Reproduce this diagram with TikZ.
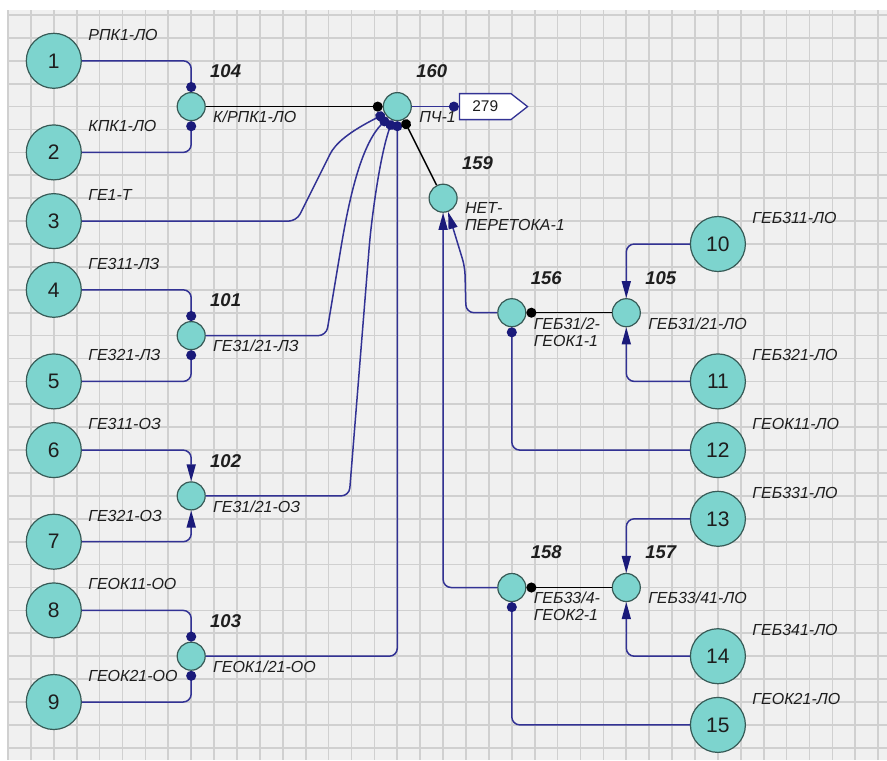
\documentclass[tikz,border=0pt]{standalone}
\usepackage{fontspec}
\setmainfont{Liberation Sans}
\usetikzlibrary{calc,arrows.meta,shapes.symbols}
\definecolor{nodefill}{RGB}{125,212,206}
\definecolor{noderim}{RGB}{55,90,86}
\definecolor{feedc}{RGB}{50,50,148}
\definecolor{dotc}{RGB}{26,26,122}
\definecolor{paper}{RGB}{240,240,240}
\definecolor{gridc}{RGB}{208,208,208}
\definecolor{inkc}{RGB}{30,30,30}
\newlength{\cellsz}
\setlength{\cellsz}{22.9pt}
\tikzset{
  src/.style={
    circle,
    draw=noderim,
    line width=1.2pt,
    fill=nodefill,
    minimum size=55pt,
    inner sep=0pt,
    text=inkc,
    font=\fontsize{21}{23}\selectfont
  },
  jn/.style={circle, draw=noderim, line width=1.2pt, fill=nodefill, minimum size=28pt, inner sep=0pt},
  srctag/.style={font=\itshape\fontsize{16}{17}\selectfont, text=inkc, inner sep=0pt, anchor=west},
  jnum/.style={font=\bfseries\itshape\fontsize{18.5}{20}\selectfont, text=inkc, inner sep=0pt, anchor=west},
  jcap/.style={font=\itshape\fontsize{16}{17}\selectfont, text=inkc, inner sep=0pt, anchor=north west, align=left},
  feed/.style={draw=feedc, line width=1.5pt, rounded corners=8pt},
  tie/.style={draw=black, line width=1.5pt},
  dotend/.style={-{Circle[length=10pt, color=dotc]}},
  tiedot/.style={-{Circle[length=10pt]}},
  arrend/.style={-{Triangle[length=17pt, width=9pt, color=dotc]}},
  flagbox/.style={signal, signal to=east, signal pointer angle=76, draw=feedc, line width=1.3pt, fill=white,
    minimum width=68pt, minimum height=26pt, inner sep=0pt, text=inkc, font=\fontsize{15.5}{17}\selectfont},
  gridln/.style={draw=gridc, line width=1.7pt},
}

\begin{document}
\begin{tikzpicture}[x=\cellsz, y=-\cellsz]
  \useasboundingbox (-0.3493,-0.655) rectangle (38.384,32.533);
  % sheet
  \fill[paper] (0,-0.218) rectangle (38.384,32.533);
  \foreach \k in {0,...,38} \draw[gridln] (\k,-0.218) -- (\k,32.533);
  \foreach \k in {0,...,32} \draw[gridln] (0,\k) -- (38.384,\k);

  % sources
  \foreach \i/\x/\y/\t in {1/2/2/РПК1-ЛО, 2/2/6/КПК1-ЛО, 3/2/9/ГЕ1-Т, 4/2/12/ГЕ311-ЛЗ, 5/2/16/ГЕ321-ЛЗ,
      6/2/19/ГЕ311-ОЗ, 7/2/23/ГЕ321-ОЗ, 8/2/26/ГЕОК11-ОО, 9/2/30/ГЕОК21-ОО,
      10/31/10/ГЕБ311-ЛО, 11/31/16/ГЕБ321-ЛО, 12/31/19/ГЕОК11-ЛО, 13/31/22/ГЕБ331-ЛО,
      14/31/28/ГЕБ341-ЛО, 15/31/31/ГЕОК21-ЛО} {
    \node[src] (s\i) at (\x,\y) {\i};
    \node[srctag] (t\i) at (\x+1.5,\y-1.14) {\t};
  }

  % junctions
  \foreach \n/\x/\y/\c in {104/8/4/{К/РПК1-ЛО}, 160/17/4/{ПЧ-1}, 159/19/8/{НЕТ-\\ПЕРЕТОКА-1},
      101/8/14/{ГЕ31/21-ЛЗ}, 102/8/21/{ГЕ31/21-ОЗ}, 103/8/28/{ГЕОК1/21-ОО},
      156/22/13/{ГЕБ31/2-\\ГЕОК1-1}, 105/27/13/{ГЕБ31/21-ЛО},
      158/22/25/{ГЕБ33/4-\\ГЕОК2-1}, 157/27/25/{ГЕБ33/41-ЛО}} {
    \node[jn] (j\n) at (\x,\y) {};
    \node[jnum] (n\n) at (\x+0.82,\y-1.53) {\n};
    \node[jcap] (c\n) at (\x+0.95,\y+0.2) {\c};
  }

  \node[flagbox, anchor=west] (f279) at (19.69,4) {279};

  % feeds into the junctions
  \foreach \a/\b in {s1/j104.north, s2/j104.south, s4/j101.north, s5/j101.south, s8/j103.north, s9/j103.south}
    \draw[feed, dotend] (\a.east) -| (\b);
  \foreach \a/\b in {s6/j102.north, s7/j102.south}
    \draw[feed, arrend] (\a.east) -| (\b);
  \foreach \a/\b in {s10/j105.north, s11/j105.south, s13/j157.north, s14/j157.south}
    \draw[feed, arrend] (\a.west) -| (\b);
  \foreach \a/\b in {s12/j156.south, s15/j158.south}
    \draw[feed, dotend] (\a.west) -| (\b);

  % bundle into 160
  \draw[feed, dotend] (s3.east) -- (12.6,9) -- (13.9,6.4) .. controls (14.3,5.6) and (14.9,5.1) .. (j160.-150);
  \draw[feed, dotend] (j101.east) -- (13.9,14) -- (14.6,9.8) .. controls (15.0,7.6) and (15.5,5.6) .. (j160.-130);
  \draw[feed, dotend] (j102.east) -- (14.9,21) -- (15.8,9.8) .. controls (16.0,8.0) and (16.3,6.0) .. (j160.-110);
  \draw[feed, dotend] (j103.east) -| (j160.south);
  \draw[feed, dotend] (j160.east) -- (f279.west);

  % black ties
  \draw[tie, tiedot] (j104.east) -- (j160.west);
  \draw[tie, tiedot] (j159) -- (j160);
  \draw[tie, tiedot] (j105.west) -- (j156.east);
  \draw[tie, tiedot] (j157.west) -- (j158.east);

  % into 159
  \draw[feed, arrend] (j156.west) -- (20,13) -- (19.95,11) -- (j159.-70);
  \draw[feed, arrend] (j158.west) -| (j159.south);
\end{tikzpicture}
\end{document}
